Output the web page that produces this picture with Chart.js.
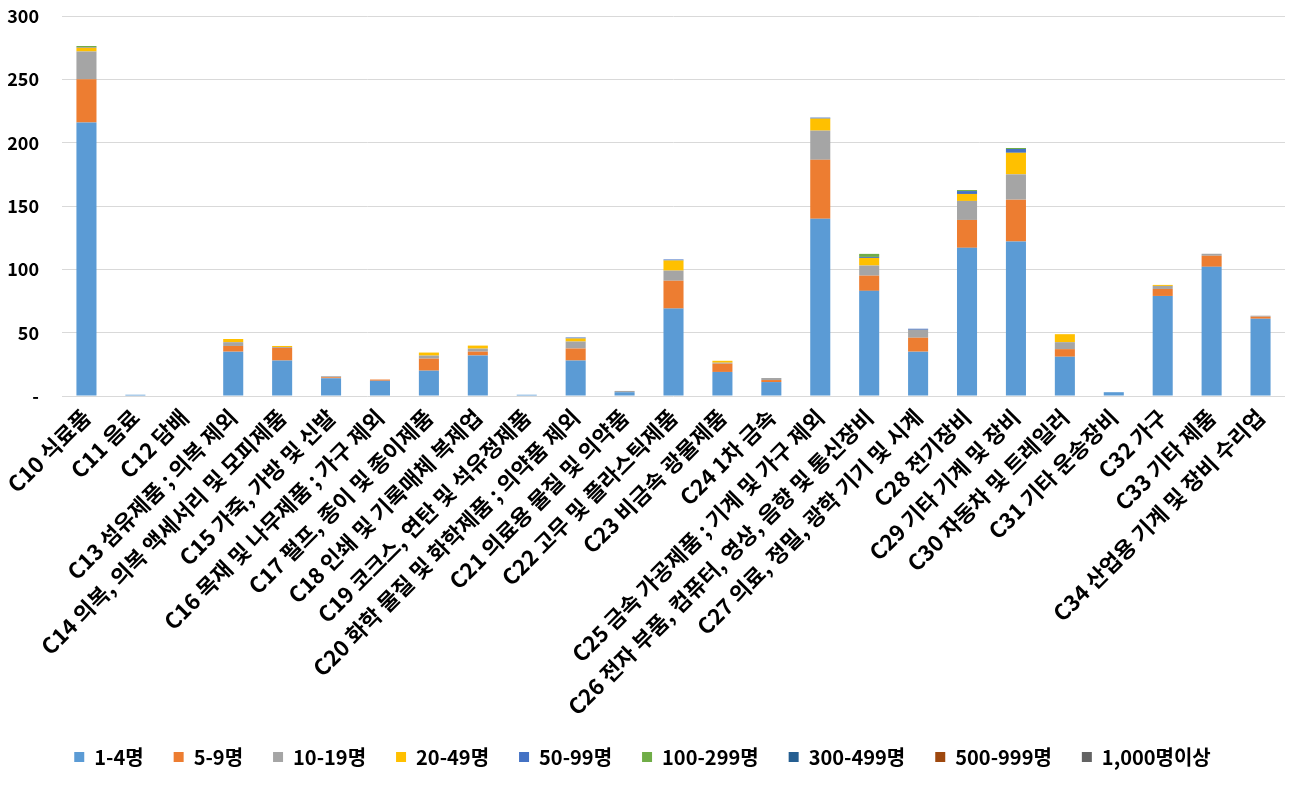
<!DOCTYPE html>
<html>
<head>
<meta charset="utf-8">
<script src="https://cdn.jsdelivr.net/npm/chart.js@4"></script>
<style>
  html, body { margin: 0; padding: 0; background: #fff; }
  #wrap { width: 1301px; height: 785px; }
</style>
</head>
<body>
<div id="wrap"><canvas id="chart"></canvas></div>
<script>
const categories = [
  'C10 식료품', 'C11 음료', 'C12 담배', 'C13 섬유제품 ; 의복 제외',
  'C14 의복, 의복 액세서리 및 모피제품', 'C15 가죽, 가방 및 신발',
  'C16 목재 및 나무제품 ; 가구 제외', 'C17 펄프, 종이 및 종이제품',
  'C18 인쇄 및 기록매체 복제업', 'C19 코크스, 연탄 및 석유정제품',
  'C20 화학 물질 및 화학제품 ; 의약품 제외', 'C21 의료용 물질 및 의약품',
  'C22 고무 및 플라스틱제품', 'C23 비금속 광물제품', 'C24 1차 금속',
  'C25 금속 가공제품 ; 기계 및 가구 제외', 'C26 전자 부품, 컴퓨터, 영상, 음향 및 통신장비',
  'C27 의료, 정밀, 광학 기기 및 시계', 'C28 전기장비', 'C29 기타 기계 및 장비',
  'C30 자동차 및 트레일러', 'C31 기타 운송장비', 'C32 가구', 'C33 기타 제품',
  'C34 산업용 기계 및 장비 수리업'
];

const seriesNames = ['1-4명', '5-9명', '10-19명', '20-49명', '50-99명', '100-299명', '300-499명', '500-999명', '1,000명이상'];
const seriesColors = ['#5B9BD5', '#ED7D31', '#A5A5A5', '#FFC000', '#4472C4', '#70AD47', '#255E91', '#9E480E', '#636363'];

const size1to4     = [216, 1, 0, 35, 28, 14, 12, 20, 32, 1, 28, 3, 69, 19, 11, 140, 83, 35, 117, 122, 31, 3, 79, 102, 61];
const size5to9     = [34, 0, 0, 4.5, 10, 0.8, 1, 9.5, 3, 0, 9.5, 0, 22, 6.5, 1.6, 46.5, 12, 11, 22, 33, 6, 0, 5.5, 8.7, 1.6];
const size10to19   = [22, 0, 0, 3, 0.7, 0.8, 0, 2.4, 2.4, 0, 5.5, 1, 8, 0.8, 1.6, 23, 8, 6.3, 15, 20, 5.5, 0, 2.4, 1.6, 0.8];
const size20to49   = [3, 0, 0, 2.5, 0.8, 0, 0, 2.4, 2.4, 0, 2.4, 0, 8, 1.5, 0, 9.5, 6, 0, 5.5, 17, 6.3, 0, 0.8, 0, 0];
const size50to99   = [0.5, 0, 0, 0, 0, 0, 0, 0, 0, 0, 0.8, 0, 0.8, 0, 0, 0.8, 0.8, 0.8, 2.3, 3, 0, 0, 0, 0, 0];
const size100to299 = [0.8, 0, 0, 0, 0, 0, 0, 0, 0, 0, 0, 0, 0, 0, 0, 0, 2.4, 0, 0.8, 0.8, 0, 0, 0, 0, 0];
const size300to499 = [0, 0, 0, 0, 0, 0, 0, 0, 0, 0, 0, 0, 0, 0, 0, 0, 0, 0, 0, 0, 0, 0, 0, 0, 0];
const size500to999 = [0, 0, 0, 0, 0, 0, 0, 0, 0, 0, 0, 0, 0, 0, 0, 0, 0, 0, 0, 0, 0, 0, 0, 0, 0];
const size1000up   = [0, 0, 0, 0, 0, 0, 0, 0, 0, 0, 0, 0, 0, 0, 0, 0, 0, 0, 0, 0, 0, 0, 0, 0, 0];

const yTicks = [0, 50, 100, 150, 200, 250, 300];

const allSeries = [size1to4, size5to9, size10to19, size20to49, size50to99, size100to299, size300to499, size500to999, size1000up];

const FONT = "'Noto Sans CJK KR', 'Noto Sans', sans-serif";

const ctx = document.getElementById('chart').getContext('2d');
new Chart(ctx, {
  type: 'bar',
  data: {
    labels: categories,
    datasets: allSeries.map((vals, i) => ({
      label: seriesNames[i],
      data: vals,
      backgroundColor: seriesColors[i],
      borderWidth: 0,
      barPercentage: 0.41,
      categoryPercentage: 1
    }))
  },
  options: {
    responsive: true,
    maintainAspectRatio: false,
    animation: false,
    layout: { padding: { top: 16, right: 16, left: 0, bottom: 8 } },
    plugins: {
      tooltip: { enabled: false },
      legend: {
        position: 'bottom',
        labels: {
          boxWidth: 10,
          boxHeight: 10,
          padding: 30,
          color: '#000',
          font: { family: FONT, size: 20, weight: 'bold' }
        }
      }
    },
    scales: {
      x: {
        stacked: true,
        grid: { display: false },
        border: { display: false },
        ticks: {
          color: '#000',
          autoSkip: false,
          maxRotation: 45,
          minRotation: 45,
          padding: 0,
          font: { family: FONT, size: 22, weight: 'bold' }
        },
        afterFit: (scale) => { scale.height = 321; }
      },
      y: {
        stacked: true,
        min: 0,
        max: 300,
        afterBuildTicks: (scale) => { scale.ticks = yTicks.map(v => ({ value: v })); },
        afterFit: (scale) => { scale.width = 62; scale.paddingTop = 0; scale.paddingBottom = 0; },
        grid: { color: '#D9D9D9', lineWidth: 1, drawTicks: false },
        border: { display: false },
        ticks: {
          color: '#000',
          padding: 23,
          font: { family: FONT, size: 18, weight: 'bold' },
          callback: (v) => v === 0 ? '-' : v
        }
      }
    }
  }
});
</script>
</body>
</html>
